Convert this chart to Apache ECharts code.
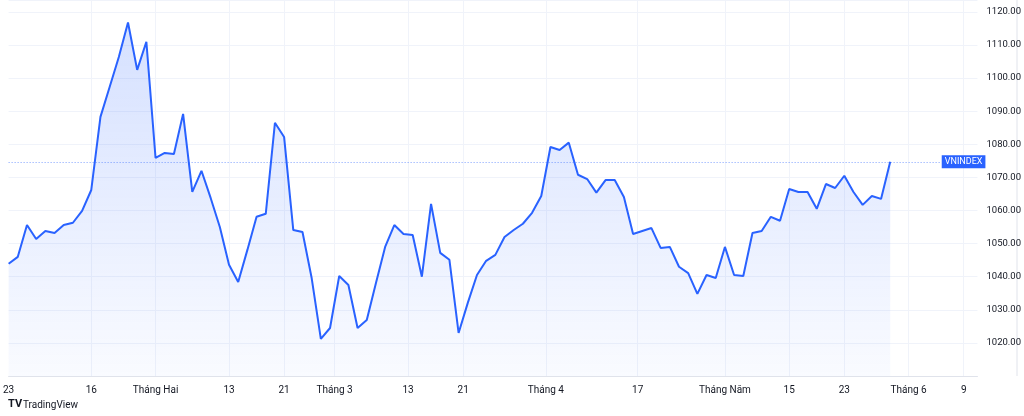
<!DOCTYPE html>
<html>
<head>
<meta charset="utf-8">
<script src="https://cdn.jsdelivr.net/npm/echarts@6/dist/echarts.min.js"></script>
<style>html,body{margin:0;padding:0;background:#fff}#chart{width:1024px;height:416px}</style>
</head>
<body>
<div id="chart"></div>
<script>
'use strict'
// daily closes, one per trading day
var closes = [
    1043.9, 1046.0, 1055.6, 1051.4, 1053.8, 1053.2, 1055.6, 1056.3, 1059.9, 1066.2,
    1088.3, 1097.3, 1106.4, 1116.8, 1102.5, 1111.0, 1075.9, 1077.4, 1077.1, 1089.2,
    1065.6, 1072.0, 1063.8, 1055.0, 1043.6, 1038.4, 1048.1, 1058.1, 1059.0, 1086.5,
    1082.2, 1054.1, 1053.5, 1039.6, 1021.2, 1024.5, 1040.2, 1037.5, 1024.5, 1026.9,
    1038.1, 1049.0, 1055.6, 1052.9, 1052.6, 1040.0, 1062.0, 1047.2, 1045.1, 1023.0,
    1032.1, 1040.5, 1044.8, 1046.6, 1052.0, 1054.1, 1056.0, 1059.3, 1064.4, 1079.2,
    1078.3, 1080.5, 1070.8, 1069.5, 1065.4, 1069.2, 1069.2, 1064.1, 1052.9, 1053.8,
    1054.7, 1048.7, 1049.0, 1043.0, 1041.1, 1034.8, 1040.5, 1039.6, 1049.0, 1040.5,
    1040.2, 1053.2, 1053.8, 1058.1, 1056.9, 1066.5, 1065.6, 1065.6, 1060.5, 1068.0,
    1066.8, 1070.5, 1065.6, 1061.7, 1064.4, 1063.5, 1074.7
];
// axis slots are half trading days so ticks can sit between sessions
var slotCount = 212;
var tickSlots = [0, 18, 32, 48, 60, 71, 87, 99, 117, 137, 156, 170, 182, 196, 208];
var tickLabels = ['23', '16', 'Tháng Hai', '13', '21', 'Tháng 3', '13', '21', 'Tháng 4', '17', 'Tháng Năm', '15', '23', 'Tháng 6', '9'];
var lastClose = closes[closes.length - 1];

var categories = [];
var labelAt = {};
for (var i = 0; i < slotCount; i++) categories.push(String(i));
tickSlots.forEach(function (s, k) { labelAt[s] = tickLabels[k]; });

var lineData = [];
closes.forEach(function (v, k) {
    lineData.push(v);
    if (k < closes.length - 1) lineData.push(null);
});

var chart = echarts.init(document.getElementById('chart'));
var option = {
    animation: false,
    grid: { left: 7, right: 42, top: 0, bottom: 40 },
    xAxis: {
        type: 'category',
        data: categories,
        boundaryGap: false,
        axisLine: { lineStyle: { color: '#e0e3eb' } },
        axisTick: { show: false },
        axisLabel: {
            interval: function (idx) { return labelAt[idx] !== undefined; },
            formatter: function (v, idx) { return labelAt[idx] || ''; },
            color: '#131722',
            fontSize: 10,
            fontFamily: 'Roboto',
            margin: 9
        },
        splitLine: {
            show: true,
            interval: function (idx) { return labelAt[idx] !== undefined && idx > 0; },
            lineStyle: { color: '#f0f3fa' }
        }
    },
    yAxis: {
        type: 'value',
        position: 'right',
        min: 1010,
        max: 1123.6,
        interval: 10,
        axisLine: { show: false },
        axisTick: { show: false },
        axisLabel: {
            showMinLabel: false,
            showMaxLabel: false,
            formatter: function (v) { return v.toFixed(2); },
            color: '#131722',
            fontSize: 9.5,
            fontFamily: 'Roboto',
            margin: 9
        },
        splitLine: { lineStyle: { color: '#f0f3fa' } }
    },
    series: [{
        type: 'line',
        data: lineData,
        connectNulls: true,
        showSymbol: false,
        lineStyle: { color: '#2962ff', width: 2 },
        itemStyle: { color: '#2962ff' },
        areaStyle: {
            color: new echarts.graphic.LinearGradient(0, 0, 0, 1, [
                { offset: 0, color: 'rgba(41,98,255,0.28)' },
                { offset: 1, color: 'rgba(41,98,255,0.04)' }
            ])
        },
        markLine: {
            silent: true,
            symbol: 'none',
            lineStyle: { color: 'rgba(41,98,255,0.6)', type: [1, 2], width: 1 },
            label: {
                position: 'end',
                formatter: 'VNINDEX',
                color: '#fff',
                backgroundColor: '#2962ff',
                fontSize: 9,
                fontFamily: 'Roboto',
                padding: [2, 3],
                distance: 1
            },
            data: [[{ coord: ['0', lastClose] }, { coord: ['203', lastClose] }]]
        }
    }],
    graphic: [
        { type: 'line', shape: { x1: 1017, y1: 0, x2: 1017, y2: 376 }, style: { stroke: '#e0e3eb' } },
        { type: 'text', left: 8, top: 399, style: { text: 'TV', font: 'bold 11px Roboto', fill: '#131722' } },
        { type: 'text', left: 23, top: 400, style: { text: 'TradingView', font: '10px Roboto', fill: '#131722' } }
    ]
};
chart.setOption(option);
</script>
</body>
</html>
